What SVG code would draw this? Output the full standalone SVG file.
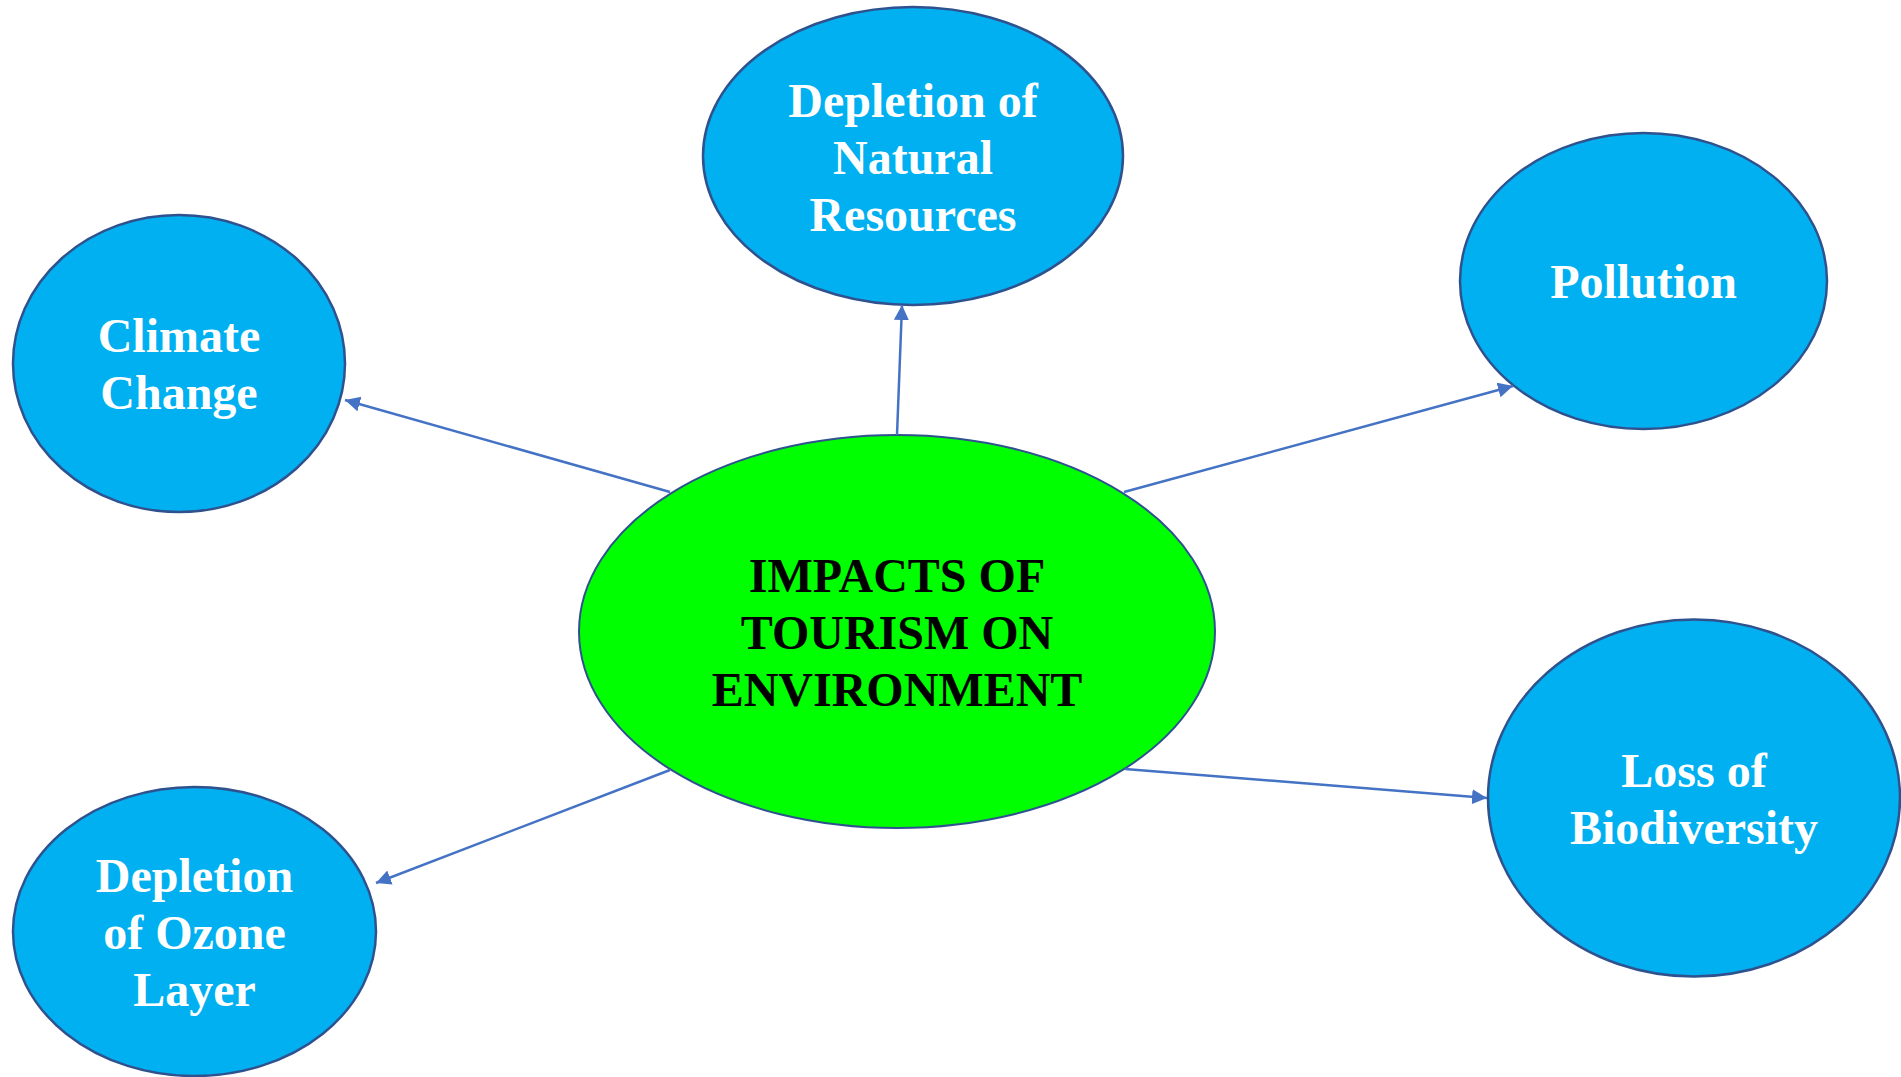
<svg xmlns="http://www.w3.org/2000/svg" width="1901" height="1077" viewBox="0 0 1901 1077">
  <style>
    .hub { fill: #00FF00; stroke: #2F528F; stroke-width: 2; }
    .leaf { fill: #00B0F0; stroke: #2F528F; stroke-width: 2.5; }
    .label { font-family: "Liberation Serif", "Times New Roman", serif; font-weight: bold; font-size: 48px; text-anchor: middle; }
    .hub-text { fill: #000000; }
    .leaf-text { fill: #FFFFFF; }
    .link { stroke: #4472C4; stroke-width: 2.5; fill: none; marker-end: url(#arrow); }
  </style>
  <defs>
    <marker id="arrow" markerUnits="userSpaceOnUse" markerWidth="16" markerHeight="16" refX="15" refY="7.5" orient="auto">
      <path d="M0,0 L15,7.5 L0,15 z" fill="#4472C4"/>
    </marker>
  </defs>

  <rect width="1901" height="1077" fill="#FFFFFF"/>

  <!-- central topic -->
  <g id="impacts">
    <ellipse class="hub" cx="897" cy="631.5" rx="318" ry="196.5"/>
    <text class="label hub-text" x="897" y="592">IMPACTS OF</text>
    <text class="label hub-text" x="897" y="649">TOURISM ON</text>
    <text class="label hub-text" x="897" y="706">ENVIRONMENT</text>
  </g>

  <g id="natural-resources">
    <ellipse class="leaf" cx="913" cy="156" rx="210" ry="149"/>
    <text class="label leaf-text" x="913" y="117">Depletion of</text>
    <text class="label leaf-text" x="913" y="174">Natural</text>
    <text class="label leaf-text" x="913" y="231">Resources</text>
  </g>

  <g id="climate-change">
    <ellipse class="leaf" cx="179" cy="363.5" rx="166" ry="148.5"/>
    <text class="label leaf-text" x="179" y="352">Climate</text>
    <text class="label leaf-text" x="179" y="409">Change</text>
  </g>

  <g id="pollution">
    <ellipse class="leaf" cx="1643.5" cy="281" rx="183.5" ry="148"/>
    <text class="label leaf-text" x="1643.5" y="298">Pollution</text>
  </g>

  <g id="biodiversity">
    <ellipse class="leaf" cx="1694" cy="798" rx="206" ry="178.5"/>
    <text class="label leaf-text" x="1694" y="787">Loss of</text>
    <text class="label leaf-text" x="1694" y="844">Biodiversity</text>
  </g>

  <g id="ozone-layer">
    <ellipse class="leaf" cx="194.5" cy="931.5" rx="181.5" ry="144.5"/>
    <text class="label leaf-text" x="194.5" y="892">Depletion</text>
    <text class="label leaf-text" x="194.5" y="949">of Ozone</text>
    <text class="label leaf-text" x="194.5" y="1006">Layer</text>
  </g>

  <!-- connectors from the central topic to each impact -->
  <g id="connectors">
    <line class="link" x1="897" y1="435" x2="902" y2="305"/>
    <line class="link" x1="670" y1="492" x2="345" y2="400"/>
    <line class="link" x1="1124" y1="492" x2="1513" y2="386"/>
    <line class="link" x1="1125" y1="769" x2="1487" y2="798"/>
    <line class="link" x1="670" y1="770" x2="376" y2="883"/>
  </g>
</svg>
